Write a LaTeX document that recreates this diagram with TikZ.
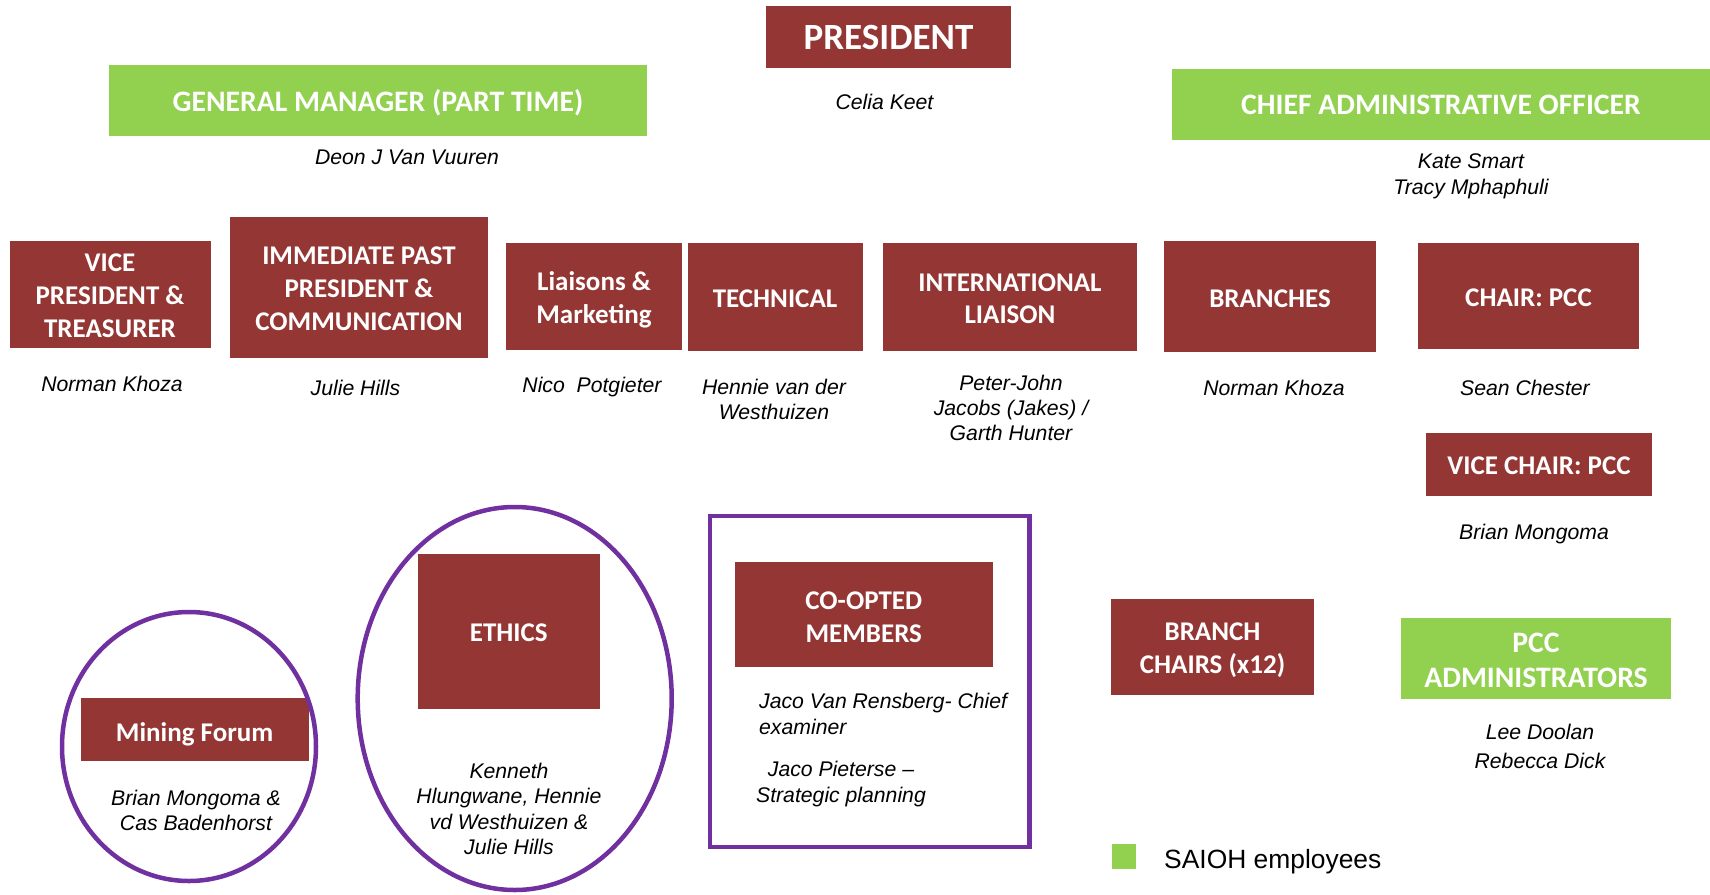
\documentclass[tikz,border=0pt]{standalone}
\usepackage{fontspec}
\setmainfont{Liberation Sans}
\newfontfamily\calfont{Carlito}
\usetikzlibrary{shapes.geometric}
\definecolor{dred}{HTML}{943634}
\definecolor{lgreen}{HTML}{92D050}
\definecolor{purp}{HTML}{7030A0}
\tikzset{
  redbox/.style={fill=dred, inner sep=0pt},
  greenbox/.style={fill=lgreen, inner sep=0pt},
  btext/.style={text=white, inner sep=0pt, align=center,
    font=\calfont\bfseries\fontsize{27}{32.7}\selectfont},
  gtext/.style={text=white, inner sep=0pt, align=center,
    font=\calfont\bfseries\fontsize{29.7}{35}\selectfont},
  person/.style={inner sep=0pt, align=center,
    font=\itshape\fontsize{21.2}{25.2}\selectfont},
  ring/.style={draw=purp, line width=4.5pt},
}
\begin{document}
\begin{tikzpicture}[x=1pt,y=-1pt]
\useasboundingbox (0,0) rectangle (1710,894);
% top row
\node[redbox, minimum width=245, minimum height=62] (pres) at (888.5,36.5) {};
\node[btext, font=\calfont\bfseries\fontsize{37}{40}\selectfont] (prest) at ([yshift=-1.1pt]pres.center) {PRESIDENT};
\node[person] (celia) at (884.5,102.4) {Celia Keet};
\node[greenbox, minimum width=538, minimum height=71] (gm) at (378,100.8) {};
\node[gtext] (gmt) at ([yshift=-2.2pt]gm.center) {GENERAL MANAGER (PART TIME)};
\node[person] (deon) at (407,157) {Deon J Van Vuuren};
\node[greenbox, minimum width=538, minimum height=71] (cao) at (1441,104) {};
\node[gtext] (caot) at ([yshift=-1.1pt]cao.center) {CHIEF ADMINISTRATIVE OFFICER};
\node[person] (kate) at (1471,176.3) {Kate Smart\\Tracy Mphaphuli};
% second row
\node[redbox, minimum width=201, minimum height=107] (vp) at (110,294.5) {};
\node[btext] (vpt) at ([yshift=-1.1pt]vp.center) {VICE\\PRESIDENT \&\\TREASURER};
\node[redbox, minimum width=257.5, minimum height=141] (ipp) at (359,287.5) {};
\node[btext] (ippt) at ([yshift=-1.1pt]ipp.center) {IMMEDIATE PAST\\PRESIDENT \&\\COMMUNICATION};
\node[redbox, minimum width=175.6, minimum height=107] (liai) at (594,296.5) {};
\node[btext] (liait) at ([yshift=-3.3pt]liai.center) {Liaisons \&\\Marketing};
\node[redbox, minimum width=175, minimum height=108] (tech) at (775,297) {};
\node[btext] (techt) at ([yshift=-2.2pt]tech.center) {TECHNICAL};
\node[redbox, minimum width=254.5, minimum height=108] (intl) at (1010,297) {};
\node[btext] (intlt) at ([yshift=-1.6pt]intl.center) {INTERNATIONAL\\LIAISON};
\node[redbox, minimum width=212.4, minimum height=111] (br) at (1270,296.5) {};
\node[btext] (brt) at ([yshift=-2.2pt]br.center) {BRANCHES};
\node[redbox, minimum width=221, minimum height=106] (chair) at (1528.5,296) {};
\node[btext] (chairt) at ([yshift=-2.2pt]chair.center) {CHAIR: PCC};
\node[person] (nk1) at (112,384) {Norman Khoza};
\node[person] (jh) at (355.5,388) {Julie Hills};
\node[person] (np) at (592,387) {Nico\ \ Potgieter};
\node[person] (hv) at (774,399.5) {Hennie van der\\Westhuizen};
\node[person] (pj) at (1011,408) {Peter-John\\Jacobs (Jakes) /\\Garth Hunter};
\node[person] (nk2) at (1274,388) {Norman Khoza};
\node[person] (sc) at (1525,388) {Sean Chester};
\node[redbox, minimum width=226.5, minimum height=63] (vc) at (1539,464.5) {};
\node[btext] (vct) at ([yshift=-1.1pt]vc.center) {VICE CHAIR: PCC};
\node[person] (bm) at (1534,534.3) {Brian Mongoma};
% bottom
\node[redbox, minimum width=228, minimum height=63] (mf) at (194.6,729.5) {};
\node[btext] (mft) at ([yshift=-4.4pt]mf.center) {Mining Forum};
\node[ring, ellipse, minimum width=254, minimum height=269] (mfring) at (189,746.5) {};
\node[person] (bmc) at (196,810.5) {Brian Mongoma \&\\Cas Badenhorst};
\node[redbox, minimum width=182, minimum height=155] (eth) at (508.75,631.5) {};
\node[btext] (etht) at ([yshift=-1.1pt]eth.center) {ETHICS};
\node[ring, ellipse, minimum width=314, minimum height=383] (ethring) at (514.7,698.5) {};
\node[person] (ken) at (509,809) {Kenneth\\Hlungwane, Hennie\\vd Westhuizen \&\\Julie Hills};
\node[ring, rectangle, minimum width=319.5, minimum height=331] (coring) at (869.75,681.5) {};
\node[redbox, minimum width=257.5, minimum height=105.4] (co) at (863.75,614.3) {};
\node[btext] (cot) at ([yshift=-2.7pt]co.center) {CO-OPTED\\MEMBERS};
\node[person, anchor=west, align=left] (jaco1) at (759,714) {Jaco Van Rensberg- Chief\\examiner};
\node[person] (jaco2) at (841,784) {Jaco Pieterse --\\Strategic planning};
\node[redbox, minimum width=203, minimum height=96] (bc) at (1212.5,647) {};
\node[btext] (bct) at ([yshift=-3.3pt]bc.center) {BRANCH\\CHAIRS (x12)};
\node[greenbox, minimum width=269.5, minimum height=81] (pcca) at (1536,658.5) {};
\node[gtext] (pccat) at ([yshift=-2.2pt]pcca.center) {PCC\\ADMINISTRATORS};
\node[person, font=\itshape\fontsize{21.2}{29.5}\selectfont] (lee) at (1540,746.5) {Lee Doolan\\Rebecca Dick};
% legend
\node[fill=lgreen, minimum width=24, minimum height=25, inner sep=0pt] (leg) at (1124,856) {};
\node[anchor=west, inner sep=0pt, font=\fontsize{26.4}{30}\selectfont] (legt) at (1164,862) {SAIOH employees};
\end{tikzpicture}
\end{document}
